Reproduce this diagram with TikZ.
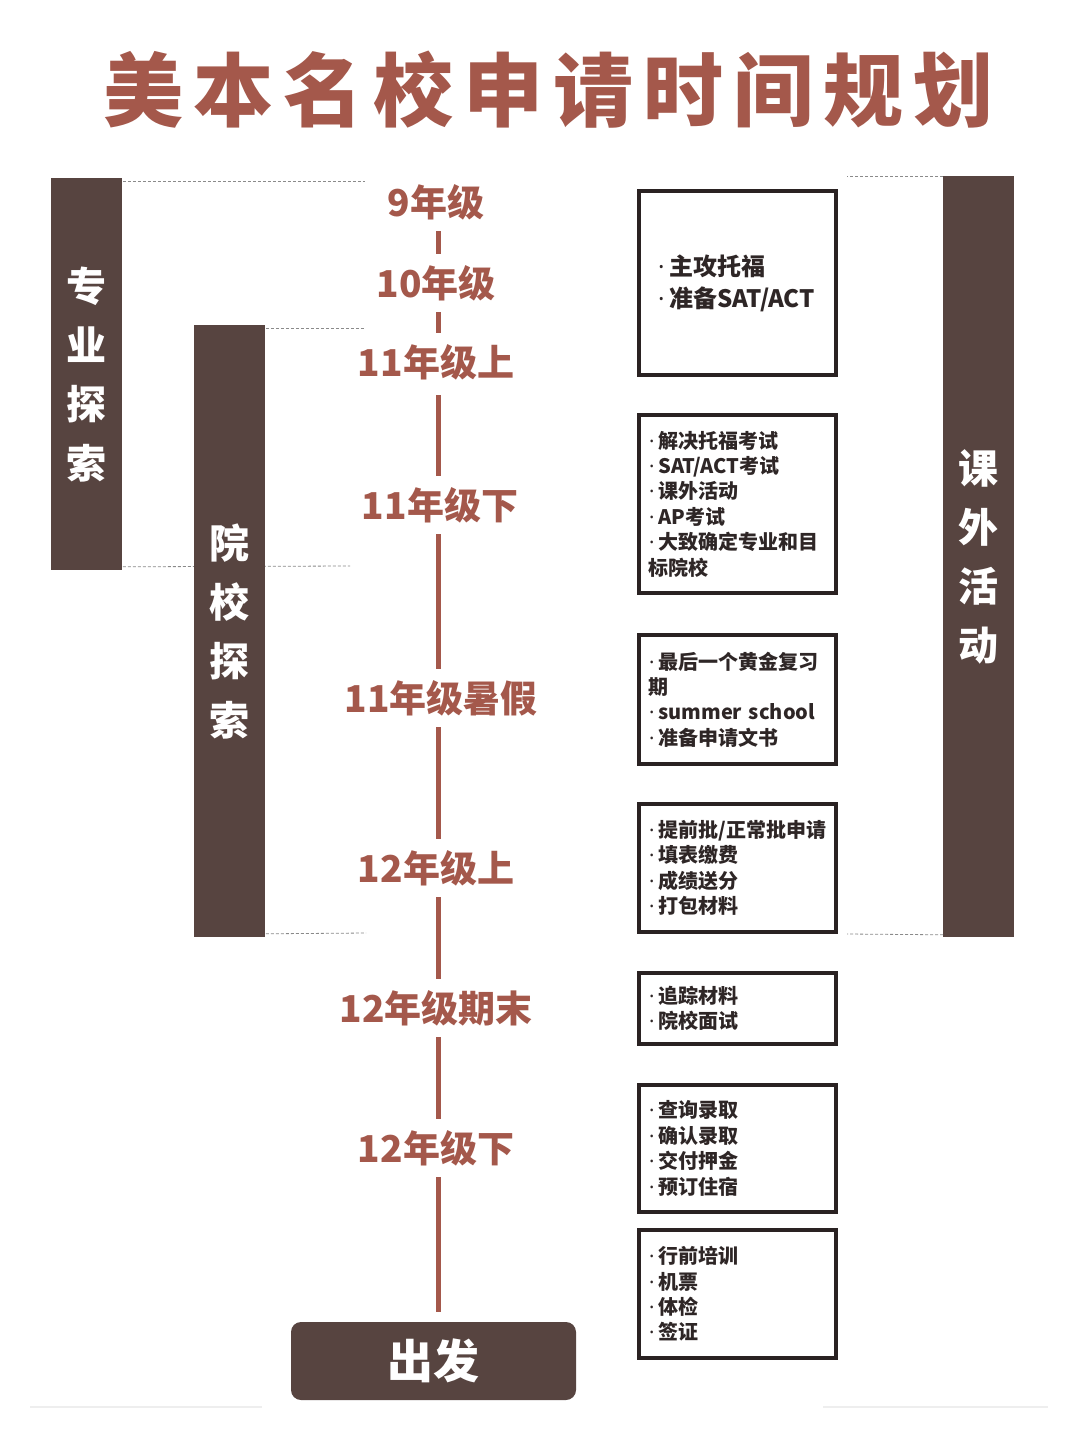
\documentclass[tikz,border=0pt]{standalone}
\usepackage{fontspec}
\setmainfont{Noto Sans CJK SC}
\newfontfamily\latinf{Noto Sans}
\newcommand\mydot{{\hspace{0.05em}\latinf\bfseries ·}\hspace{0.2em}}
\definecolor{barc}{HTML}{574440}
\definecolor{redc}{HTML}{A4584B}
\definecolor{boxc}{HTML}{2A2222}
\definecolor{txtc}{HTML}{2E2626}
\definecolor{dotc}{HTML}{8A8A8A}
\definecolor{faintc}{HTML}{EEEEEE}
\begin{document}
\begin{tikzpicture}[x=0.5pt,y=-0.5pt,
  bar/.style={fill=barc, text=white, font=\bfseries\fontsize{20pt}{29.5pt}\selectfont, align=center, minimum width=35.5pt, inner sep=0pt, anchor=north west},
  dots/.style={draw=dotc, line width=0.4pt, dash pattern=on 1.5pt off 1pt},
  yearlabel/.style={font=\bfseries\fontsize{18.5pt}{20pt}\selectfont, text=redc, minimum height=29pt, inner sep=0pt},
  seg/.style={draw=redc, line width=2.5pt},
  infobox/.style={draw=boxc, line width=2pt, minimum width=98.5pt, inner xsep=4.5pt, text width=89.5pt, align=left, text=txtc, font=\bfseries\fontsize{10pt}{12.7pt}\selectfont},
  bigbox/.style={infobox, inner xsep=9pt, text width=80.5pt, font=\bfseries\fontsize{12pt}{16pt}\selectfont},
  gobox/.style={fill=barc, text=white, rounded corners=5pt, minimum width=142.5pt, minimum height=39pt, inner sep=0pt, font=\bfseries\fontsize{23pt}{25pt}\selectfont},
  faint/.style={draw=faintc, line width=0.8pt}]
\fill[white] (0,0) rectangle (1080,1440);
\useasboundingbox (0,0) rectangle (1080,1440);

% title
\node[text=redc, font=\bfseries\fontsize{40pt}{44pt}\selectfont, inner sep=0pt] (title) at (548,90)
  {美\hspace{5pt}本\hspace{5pt}名\hspace{5pt}校\hspace{5pt}申\hspace{5pt}请\hspace{5pt}时\hspace{5pt}间\hspace{5pt}规\hspace{5pt}划};

% left bars
\node[bar, minimum height=196pt] (b1) at (51,178) {专\\业\\探\\索};
\coordinate (d1) at (365,181);
\coordinate (d2) at (350,566);
\draw[dots] ([yshift=-1.5pt]b1.north east) -- (d1);
\draw[dots] ([yshift=2pt]b1.south east) -- (d2);
\node[bar, minimum height=306pt] (b2) at (194,325) {院\\校\\探\\索};
\coordinate (d3) at (365,328);
\coordinate (d4) at (366,933);
\draw[dots] ([yshift=-1.5pt]b2.north east) -- (d3);
\draw[dots] ([yshift=2pt]b2.south east) -- (d4);

% right bar
\node[bar, minimum height=380.5pt] (b3) at (943,176) {课\\外\\活\\动};
\coordinate (d5) at (847,176);
\coordinate (d6) at (847,934);
\draw[dots] (b3.north west) -- (d5);
\draw[dots] ([yshift=1.5pt]b3.south west) -- (d6);

% timeline labels
\node[yearlabel] (y9) at (436,202) {9年级};
\node[yearlabel] (y10) at (436,283) {10年级};
\node[yearlabel] (y11a) at (436,362) {11年级上};
\node[yearlabel] (y11b) at (440,505) {11年级下};
\node[yearlabel] (y11c) at (441,698) {11年级暑假};
\node[yearlabel] (y12a) at (436,868) {12年级上};
\node[yearlabel] (y12b) at (436,1008) {12年级期末};
\node[yearlabel] (y12c) at (436,1148) {12年级下};
\node[gobox] (go) at (433.5,1361) {出发};

\draw[seg] (y9.south -| 438,0) -- (y10.north -| 438,0);
\draw[seg] (y10.south -| 438,0) -- (y11a.north -| 438,0);
\draw[seg] ([yshift=-2pt]y11a.south -| 438,0) -- (y11b.north -| 438,0);
\draw[seg] (y11b.south -| 438,0) -- (y11c.north -| 438,0);
\draw[seg] (y11c.south -| 438,0) -- (y12a.north -| 438,0);
\draw[seg] (y12a.south -| 438,0) -- (y12b.north -| 438,0);
\draw[seg] (y12b.south -| 438,0) -- (y12c.north -| 438,0);
\draw[seg, shorten >=5pt] (y12c.south -| 438,0) -- (go.north -| 438,0);

% info boxes
\node[bigbox, minimum height=92pt] (c1) at (737.5,283) {\mydot 主攻托福\\\mydot 准备SAT/ACT};
\node[infobox, minimum height=89pt] (c2) at (737.5,504) {\mydot 解决托福考试\\\mydot SAT/ACT考试\\\mydot 课外活动\\\mydot AP考试\\\mydot 大致确定专业和目\\标院校};
\node[infobox, minimum height=64.5pt] (c3) at (737.5,699.5) {\mydot 最后一个黄金复习\\期\\\mydot summer school\\\mydot 准备申请文书};
\node[infobox, minimum height=64pt] (c4) at (737.5,868) {\mydot 提前批/正常批申请\\\mydot 填表缴费\\\mydot 成绩送分\\\mydot 打包材料};
\node[infobox, minimum height=35.5pt] (c5) at (737.5,1008.5) {\mydot 追踪材料\\\mydot 院校面试};
\node[infobox, minimum height=63.5pt] (c6) at (737.5,1148.5) {\mydot 查询录取\\\mydot 确认录取\\\mydot 交付押金\\\mydot 预订住宿};
\node[infobox, minimum height=64pt] (c7) at (737.5,1294) {\mydot 行前培训\\\mydot 机票\\\mydot 体检\\\mydot 签证};

% faint bottom lines
\draw[faint] (30,1407) -- (262,1407);
\draw[faint] (823,1407) -- (1048,1407);
\end{tikzpicture}
\end{document}
